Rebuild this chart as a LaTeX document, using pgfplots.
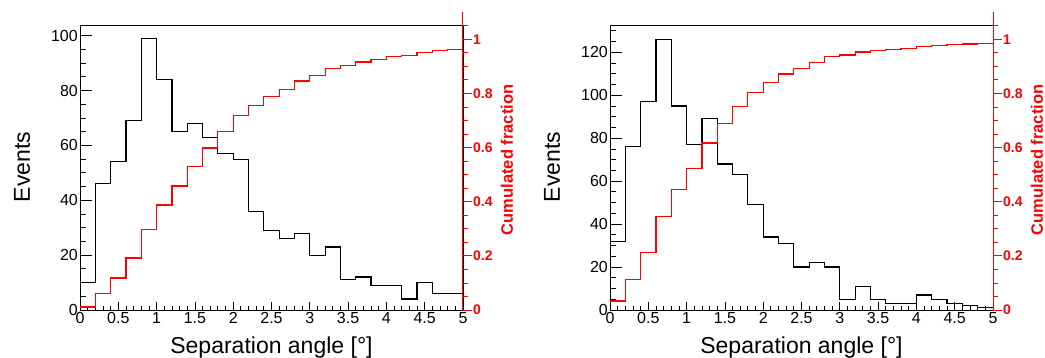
\documentclass[border=0pt]{standalone}
\usepackage{pgfplots}
\pgfplotsset{compat=1.18}
\usepackage{pgfplotstable}
\usepackage{fontspec}
\setmainfont{Liberation Sans}

\pgfplotstableread{
x y
0.0 10
0.2 46
0.4 54
0.6 69
0.8 99
1.0 84
1.2 65
1.4 68
1.6 63
1.8 57
2.0 55
2.2 36
2.4 29
2.6 26
2.8 28
3.0 20
3.2 23
3.4 11
3.6 12
3.8 9
4.0 9
4.2 4
4.4 10
4.6 6
4.8 6
5.0 6
}\histA

\pgfplotstableread{
x y
0.0 0.0107
0.2 0.0600
0.4 0.1179
0.6 0.1919
0.8 0.2980
1.0 0.3880
1.2 0.4577
1.4 0.5305
1.6 0.5981
1.8 0.6592
2.0 0.7181
2.2 0.7567
2.4 0.7878
2.6 0.8156
2.8 0.8457
3.0 0.8671
3.2 0.8917
3.4 0.9035
3.6 0.9164
3.8 0.9260
4.0 0.9357
4.2 0.9400
4.4 0.9507
4.6 0.9571
4.8 0.9636
5.0 0.9636
}\cumA

\pgfplotstableread{
x y
0.0 32
0.2 76
0.4 97
0.6 126
0.8 95
1.0 77
1.2 89
1.4 68
1.6 63
1.8 49
2.0 34
2.2 31
2.4 20
2.6 22
2.8 20
3.0 5
3.2 11
3.4 5
3.6 3
3.8 3
4.0 7
4.2 5
4.4 3
4.6 2
4.8 1
5.0 1
}\histB

\pgfplotstableread{
x y
0.0 0.0333
0.2 0.1125
0.4 0.2135
0.6 0.3448
0.8 0.4438
1.0 0.5240
1.2 0.6167
1.4 0.6875
1.6 0.7531
1.8 0.8042
2.0 0.8396
2.2 0.8719
2.4 0.8927
2.6 0.9156
2.8 0.9365
3.0 0.9417
3.2 0.9531
3.4 0.9583
3.6 0.9615
3.8 0.9646
4.0 0.9719
4.2 0.9771
4.4 0.9802
4.6 0.9823
4.8 0.9833
5.0 0.9833
}\cumB

\pgfplotsset{
  rootbase/.style={
    anchor=south west, scale only axis, width=383pt,
    xmin=0, xmax=5, ymin=0,
    /pgf/number format/assume math mode=true,
  },
  framex/.style={
    rootbase, height=285pt,
    axis line style={black, line width=0.9pt},
    xtick={0,0.5,...,5}, minor x tick num=4, ytick=\empty,
    xtick pos=left, tick align=inside,
    major tick length=8pt, minor tick length=4pt,
    tick style={black, line width=0.8pt},
    xticklabel style={font=\fontsize{16}{18}\selectfont, inner sep=2pt},
    xlabel={Separation angle [°]},
    xlabel style={font=\fontsize{23}{26}\selectfont, at={(axis description cs:0.5,-0.154)}, anchor=base},
  },
  blacky/.style={
    rootbase, height=285pt,
    axis x line=none, axis y line*=left,
    axis line style={black, line width=0.9pt},
    tick align=inside, major tick length=12pt, minor tick length=6pt,
    tick style={black, line width=0.8pt},
    yticklabel style={font=\fontsize{16}{18}\selectfont, inner sep=2pt},
    ylabel={Events},
    ylabel style={font=\fontsize{23}{26}\selectfont, at={(axis description cs:-0.151,0.502)}, anchor=center},
  },
  redy/.style={
    rootbase, height=297.8pt, ymax=1.1,
    axis x line=none, axis y line*=right,
    axis line style={red, line width=1pt},
    ytick={0,0.2,0.4,0.6,0.8,1}, minor ytick={0,0.05,...,1.06},
    tick align=outside, major tick length=9pt, minor tick length=5pt,
    tick style={red, line width=0.8pt},
    yticklabel style={red, font=\bfseries\fontsize{14}{16}\selectfont, inner sep=1pt},
    ylabel={Cumulated fraction},
    ylabel style={red, font=\bfseries\fontsize{16.5}{18}\selectfont, at={(axis description cs:1.115,0.504)}, anchor=center},
  },
}

\begin{document}
\begin{tikzpicture}[x=1pt,y=1pt]
\path[use as bounding box] (0,0) rectangle (1045,358);

% ---------- left panel ----------
\begin{axis}[framex, at={(80pt,48pt)}, ymax=103.9]
\addplot[const plot mark left, black, line width=1.2pt] table[x=x,y=y] {\histA};
\end{axis}
\begin{axis}[blacky, at={(80pt,48pt)}, ymax=103.9,
  ytick={0,20,...,100}, minor ytick={0,5,...,100}]
\end{axis}
\begin{axis}[redy, at={(80pt,48pt)}]
\addplot[const plot mark left, red, line width=1.2pt] table[x=x,y=y] {\cumA};
\end{axis}

% ---------- right panel ----------
\begin{axis}[framex, at={(610pt,48pt)}, ymax=132.7]
\addplot[const plot mark left, black, line width=1.2pt] table[x=x,y=y] {\histB};
\end{axis}
\begin{axis}[blacky, at={(610pt,48pt)}, ymax=132.7,
  ytick={0,20,...,120}, minor ytick={0,5,...,130}]
\end{axis}
\begin{axis}[redy, at={(610pt,48pt)}]
\addplot[const plot mark left, red, line width=1.2pt] table[x=x,y=y] {\cumB};
\end{axis}
\end{tikzpicture}
\end{document}
